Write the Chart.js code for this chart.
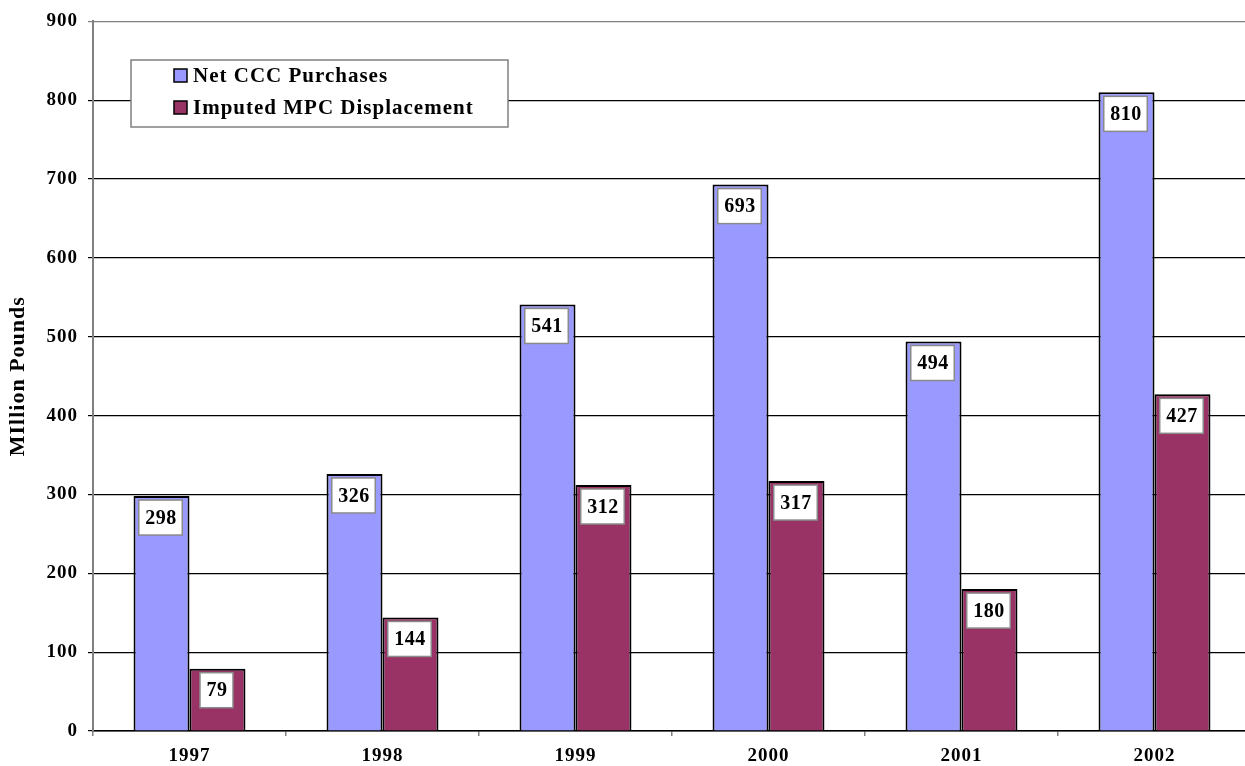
<!DOCTYPE html>
<html>
<head>
<meta charset="utf-8">
<script src="https://cdn.jsdelivr.net/npm/chart.js@4/dist/chart.umd.min.js"></script>
<style>
  html, body { margin: 0; padding: 0; background: #fff; overflow: hidden; }
  #wrap { width: 1252px; height: 766px; position: relative; }
  .pre { font-family: "Liberation Serif"; font-weight: bold; position: absolute; left: -9999px; }
</style>
</head>
<body>
<span class="pre">Preload 0123456789</span>
<div id="wrap"><canvas id="c"></canvas></div>
<script>
const categories = ['1997', '1998', '1999', '2000', '2001', '2002'];
const netCCCPurchases = [298, 326, 541, 693, 494, 810];
const imputedMPCDisplacement = [79, 144, 312, 317, 180, 427];
const seriesNames = ['Net CCC Purchases', 'Imputed MPC Displacement'];
const yTicks = [0, 100, 200, 300, 400, 500, 600, 700, 800, 900];

const FONT = '"Liberation Serif", "Times New Roman", Times, serif';
const BLUE = '#9999FF';
const MAROON = '#993366';

const spacingPlugin = {
  id: 'spacing',
  beforeDraw(chart) {
    chart.ctx.letterSpacing = '1px';
  }
};

const labelPlugin = {
  id: 'boxLabels',
  afterDatasetsDraw(chart) {
    const ctx = chart.ctx;
    ctx.save();
    ctx.letterSpacing = '0.5px';
    ctx.font = 'bold 20px ' + FONT;
    ctx.textAlign = 'center';
    ctx.textBaseline = 'middle';
    chart.data.datasets.forEach((ds, di) => {
      const meta = chart.getDatasetMeta(di);
      meta.data.forEach((bar, i) => {
        const txt = String(ds.data[i]);
        const w = ctx.measureText(txt).width + 12;
        const h = 35;
        const cx = bar.x - 1;
        const top = bar.y + 4;
        ctx.fillStyle = '#fff';
        ctx.fillRect(cx - w / 2, top, w, h);
        ctx.strokeStyle = '#8a8a8a';
        ctx.lineWidth = 1.5;
        ctx.strokeRect(cx - w / 2, top, w, h);
        ctx.fillStyle = '#000';
        ctx.fillText(txt, cx + 0.5, top + h / 2 + 1);
      });
    });
    ctx.restore();
  }
};

const legendPlugin = {
  id: 'boxLegend',
  afterDraw(chart) {
    const ctx = chart.ctx;
    ctx.save();
    ctx.fillStyle = '#fff';
    ctx.fillRect(131, 60, 377, 67);
    ctx.strokeStyle = '#808080';
    ctx.lineWidth = 1.5;
    ctx.strokeRect(131, 60, 377, 67);
    const rows = [76, 108];
    const colors = [BLUE, MAROON];
    ctx.letterSpacing = '1px';
    ctx.font = 'bold 21px ' + FONT;
    ctx.textAlign = 'left';
    ctx.textBaseline = 'middle';
    rows.forEach((y, i) => {
      ctx.fillStyle = colors[i];
      ctx.fillRect(174, y - 7, 13, 13);
      ctx.strokeStyle = '#000';
      ctx.lineWidth = 1.5;
      ctx.strokeRect(174, y - 7, 13, 13);
      ctx.fillStyle = '#000';
      ctx.fillText(chart.data.datasets[i].label, 193, y + 1);
    });
    ctx.restore();
  }
};

function build() {
  new Chart(document.getElementById('c'), {
    type: 'bar',
    data: {
      labels: categories,
      datasets: [
        { label: seriesNames[0], data: netCCCPurchases, backgroundColor: BLUE, borderColor: '#000', borderWidth: 2, borderSkipped: 'bottom' },
        { label: seriesNames[1], data: imputedMPCDisplacement, backgroundColor: MAROON, borderColor: '#000', borderWidth: 2, borderSkipped: 'bottom' }
      ]
    },
    options: {
      responsive: true,
      maintainAspectRatio: false,
      animation: false,
      events: [],
      layout: { padding: { left: 0, top: 19, right: 1, bottom: 0 } },
      datasets: { bar: { categoryPercentage: 0.58, barPercentage: 1.0 } },
      plugins: {
        legend: { display: false },
        tooltip: { enabled: false },
        title: { display: false }
      },
      scales: {
        x: {
          afterFit(scale) { scale.height = 35; },
          grid: { display: true, drawOnChartArea: false, drawTicks: true, tickLength: 5, color: '#808080', lineWidth: 1.5, offset: true },
          border: { display: true, color: '#000', width: 1.5 },
          ticks: { color: '#000', font: { family: FONT, size: 19, weight: 'bold' }, padding: 9, maxRotation: 0 }
        },
        y: {
          min: 0,
          max: 900,
          afterFit(scale) { scale.width = 93; },
          afterBuildTicks(scale) { scale.ticks = yTicks.map(v => ({ value: v })); },
          grid: {
            color: (c) => (c.tick && c.tick.value === 900 ? '#808080' : '#000'),
            lineWidth: 1.2,
            tickLength: 5
          },
          border: { display: true, color: '#808080', width: 2 },
          ticks: { color: '#000', font: { family: FONT, size: 19, weight: 'bold' }, padding: 10 },
          title: {
            display: true,
            text: 'MIllion Pounds',
            color: '#000',
            font: { family: FONT, size: 22, weight: 'bold' },
            padding: { top: 5, bottom: 0 }
          }
        }
      }
    },
    plugins: [spacingPlugin, labelPlugin, legendPlugin]
  });
}

Promise.all([
  document.fonts.load('bold 19px "Liberation Serif"'),
  document.fonts.load('bold 21px "Liberation Serif"')
]).then(build, build);
</script>
</body>
</html>
